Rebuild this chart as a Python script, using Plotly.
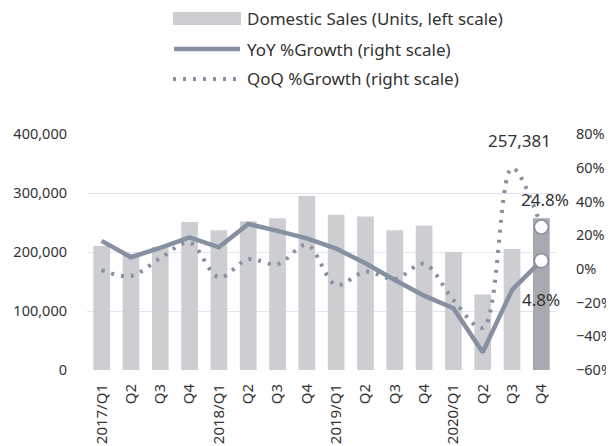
import plotly.graph_objects as go

quarters = ["2017/Q1", "Q2", "Q3", "Q4", "2018/Q1", "Q2", "Q3", "Q4",
            "2019/Q1", "Q2", "Q3", "Q4", "2020/Q1", "Q2", "Q3", "Q4"]
sales = [210000, 197000, 209000, 251000, 237000, 252000, 257000, 295000,
         263000, 260000, 237000, 245000, 200000, 128000, 205000, 257381]
yoy = [16.6, 6.9, 12.5, 18.7, 12.8, 26.6, 22.5, 18.1,
       12.0, 3.3, -6.6, -15.9, -23.4, -49.5, -12.5, 4.8]
qoq = [-0.7, -4.2, 6.3, 15.5, -5.0, 5.7, 2.7, 14.2,
       -9.5, -1.6, -6.0, 2.9, -18.5, -35.0, 59.7, 24.8]

FONT = "Noto Sans"
TXT = "#333333"
LINE = "#8690a0"
BAR = "#cdced2"
BAR_LAST = "#a6a9ae"

# page body has an 8px default margin; work in window pixels and offset
OFF = 8
W, H = 614 - OFF, 446 - OFF
L, T = 87 - OFF, 134 - OFF
PW, PH = 469, 236
R, B = W - L - PW, H - T - PH

def px(xw):
    return (xw - OFF - L) / PW

def py(yw):
    return (H - B - (yw - OFF)) / PH

x = list(range(len(quarters)))
colors = [BAR] * (len(sales) - 1) + [BAR_LAST]

fig = go.Figure()
fig.add_trace(go.Bar(x=x, y=sales, marker=dict(color=colors, line=dict(width=0)),
                     name="Domestic Sales (Units, left scale)", showlegend=False))
fig.add_trace(go.Scatter(x=x, y=qoq, yaxis="y2", mode="lines",
                         line=dict(color=LINE, width=4, dash="3px,7px", shape="spline", smoothing=1.0),
                         name="QoQ %Growth (right scale)", showlegend=False))
fig.add_trace(go.Scatter(x=x, y=yoy, yaxis="y2", mode="lines",
                         line=dict(color=LINE, width=4.5),
                         name="YoY %Growth (right scale)", showlegend=False))
fig.add_trace(go.Scatter(x=[x[-1], x[-1]], y=[yoy[-1], qoq[-1]], yaxis="y2", mode="markers",
                         marker=dict(size=14, color="white", line=dict(color=LINE, width=1.5)),
                         showlegend=False, hoverinfo="skip"))

ann = [
    dict(x=x[-1], y=sales[-1], xref="x", yref="y", text=f"{sales[-1]:,}",
         showarrow=False, xshift=-22, yshift=78, font=dict(size=17, color=TXT, family=FONT)),
    dict(x=x[-1], y=qoq[-1], xref="x", yref="y2", text=f"{qoq[-1]}%",
         showarrow=False, xshift=4, yshift=28, font=dict(size=17, color=TXT, family=FONT)),
    dict(x=x[-1], y=yoy[-1], xref="x", yref="y2", text=f"{yoy[-1]}%",
         showarrow=False, xshift=0, yshift=-39, font=dict(size=17, color=TXT, family=FONT)),
]

# custom legend (window pixel positions)
legend_items = ["Domestic Sales (Units, left scale)", "YoY %Growth (right scale)", "QoQ %Growth (right scale)"]
rows_y = [19, 49, 79]
shapes = [
    dict(type="rect", xref="paper", yref="paper", x0=px(173), x1=px(241), y0=py(25), y1=py(12),
         fillcolor=BAR, line=dict(width=0)),
    dict(type="line", xref="paper", yref="paper", x0=px(174), x1=px(240), y0=py(rows_y[1]), y1=py(rows_y[1]),
         line=dict(color=LINE, width=4.5)),
    dict(type="line", xref="paper", yref="paper", x0=px(173), x1=px(243), y0=py(rows_y[2]), y1=py(rows_y[2]),
         line=dict(color=LINE, width=4, dash="3px,7px")),
]
for t, yy in zip(legend_items, rows_y):
    ann.append(dict(x=px(245), y=py(yy), xref="paper", yref="paper", text=t, showarrow=False,
                    xanchor="left", yanchor="middle", font=dict(size=17, color=TXT, family=FONT)))

fig.update_layout(
    width=W, height=H,
    margin=dict(l=L, r=R, t=T, b=B),
    paper_bgcolor="white", plot_bgcolor="white",
    font=dict(family=FONT, size=14, color=TXT),
    bargap=0.43,
    showlegend=False,
    xaxis=dict(range=[-0.5, len(x) - 0.5], tickvals=x, ticktext=quarters, tickangle=-90,
               showgrid=False, zeroline=False, showline=False, ticks="", ticklabelstandoff=10,
               automargin=False, tickfont=dict(size=15, color=TXT)),
    yaxis=dict(range=[0, 400000], dtick=100000, tickformat=",", showgrid=True, gridcolor="#e4e4ef",
               gridwidth=1, zeroline=False, showline=False, ticks="", ticklabelstandoff=19,
               automargin=False, tickfont=dict(size=14.5, color=TXT)),
    yaxis2=dict(range=[-60, 80], dtick=20, ticksuffix="%", overlaying="y", side="right",
                showgrid=False, zeroline=False, showline=False, ticks="", ticklabelstandoff=19,
                automargin=False, tickfont=dict(size=14.5, color=TXT)),
    shapes=shapes,
    annotations=ann,
)

fig.write_html("out.html")
